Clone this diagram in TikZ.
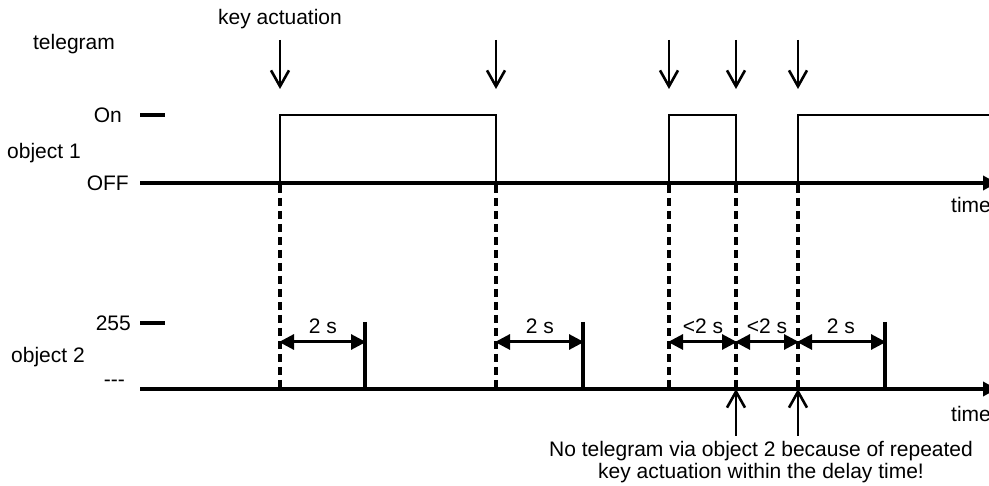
\documentclass[tikz,border=0pt]{standalone}
\usepackage{fontspec}
\setmainfont{Liberation Sans}
\usetikzlibrary{arrows.meta}
\begin{document}
\begin{tikzpicture}[x=1pt,y=-1pt,
  txt/.style={inner sep=0pt,font=\fontsize{21}{21.5}\selectfont},
  axis/.style={line width=3.5pt,-{Triangle[length=14pt,width=14pt]}},
  tick/.style={line width=3.5pt},
  sig/.style={line width=2.4pt},
  keyarr/.style={line width=2.6pt,-{Straight Barb[length=16pt,width=18pt]}},
  dim/.style={line width=3pt,{Triangle[length=15pt,width=15pt]}-{Triangle[length=15pt,width=15pt]},shorten <=-1pt,shorten >=-1pt},
  endline/.style={line width=3.5pt},
  dsh/.style={line width=3.5pt,dash pattern=on 8pt off 5pt}]
\useasboundingbox (0,0) rectangle (989,486);
% coordinates
\coordinate (a1s) at (140,183); \coordinate (a1e) at (997,183);
\coordinate (a2s) at (140,389); \coordinate (a2e) at (997,389);
% labels
\node[txt] (keyact) at (280,19) {key actuation};
\node[txt] (telegram) at (74,44) {telegram};
\node[txt,anchor=east] (on) at (122,115) {On};
\node[txt,anchor=east] (off) at (129,183) {OFF};
\node[txt] (obj1) at (44,153) {object 1};
\node[txt,anchor=east] (v255) at (131,323) {255};
\node[txt] (obj2) at (48,357) {object 2};
\node[txt,anchor=east] (none) at (125,383) {-{}-{}-};
\node[txt,anchor=west] (time1) at (951,205) {time};
\node[txt,anchor=west] (time2) at (951,414) {time};
% ticks
\draw[tick] (140,115) -- (165,115);
\draw[tick] (140,323) -- (165,323);
% axes
\draw[axis] (a1s) -- (a1e);
\draw[axis] (a2s) -- (a2e);
% signal object 1
\draw[sig] (280,183) -- (280,115) -- (496,115) -- (496,183);
\draw[sig] (669,183) -- (669,115) -- (736,115) -- (736,183);
\draw[sig] (798,183) -- (798,115) -- (992,115);
% key actuation arrows
\foreach \x/\n in {280/k1,496/k2,669/k3,736/k4,798/k5}{
  \coordinate (\n t) at (\x,40);
  \coordinate (\n b) at (\x,89);
  \draw[keyarr] (\n t) -- (\n b);
  \coordinate (\n u) at (\x,185);
  \coordinate (\n d) at (\x,389);
  \draw[dsh] (\n u) -- (\n d);
}
% end lines of 2 s
\foreach \x/\n in {365/e1,583/e2,885/e3}{
  \coordinate (\n t) at (\x,322);
  \coordinate (\n b) at (\x,389);
  \draw[endline] (\n t) -- (\n b);
}
% dimension arrows
\coordinate (d1a) at (280,342); \coordinate (d1b) at (365,342);
\coordinate (d2a) at (496,342); \coordinate (d2b) at (583,342);
\coordinate (d3a) at (669,342); \coordinate (d3b) at (736,342);
\coordinate (d4a) at (736,342); \coordinate (d4b) at (798,342);
\coordinate (d5a) at (798,342); \coordinate (d5b) at (885,342);
\draw[dim] (d1a) -- (d1b);
\draw[dim] (d2a) -- (d2b);
\draw[dim] (d3a) -- (d3b);
\draw[dim] (d4a) -- (d4b);
\draw[dim] (d5a) -- (d5b);
\node[txt] (l1) at (323,326) {2 s};
\node[txt] (l2) at (540,326) {2 s};
\node[txt] (l3) at (703,326) {<2 s};
\node[txt] (l4) at (767,326) {<2 s};
\node[txt] (l5) at (841,326) {2 s};
% note arrows
\coordinate (n1b) at (736,436); \coordinate (n1t) at (736,389);
\coordinate (n2b) at (798,436); \coordinate (n2t) at (798,389);
\draw[keyarr] (n1b) -- (n1t);
\draw[keyarr] (n2b) -- (n2t);
\node[txt,align=center] (note) at (761,462) {No telegram via object 2 because of repeated\\key actuation within the delay time!};
\end{tikzpicture}
\end{document}
